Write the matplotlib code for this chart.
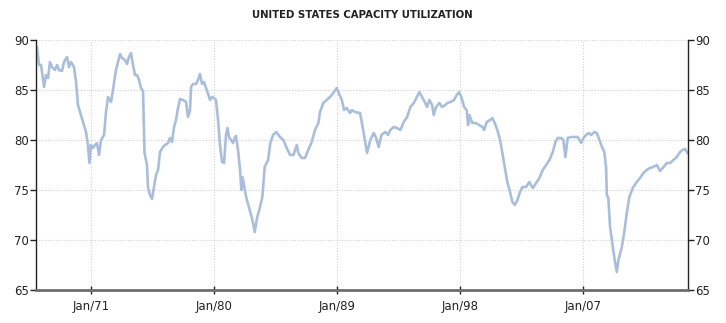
import matplotlib
matplotlib.use("Agg")
import matplotlib.pyplot as plt

title = "UNITED STATES CAPACITY UTILIZATION"

years = [
    1967.02, 1967.17, 1967.32, 1967.54, 1967.68, 1967.83, 1967.97, 1968.12, 1968.34, 1968.49,
    1968.63, 1968.85, 1969.00, 1969.22, 1969.36, 1969.51, 1969.73, 1969.88, 1970.02, 1970.24,
    1970.46, 1970.61, 1970.75, 1970.86, 1970.97, 1971.12, 1971.27, 1971.41, 1971.56, 1971.71,
    1971.93, 1972.07, 1972.22, 1972.44, 1972.58, 1972.80, 1972.95, 1973.10, 1973.24, 1973.46,
    1973.61, 1973.75, 1973.90, 1974.05, 1974.19, 1974.34, 1974.49, 1974.63, 1974.78, 1974.89,
    1975.07, 1975.14, 1975.29, 1975.44, 1975.58, 1975.73, 1975.88, 1976.02, 1976.24, 1976.39,
    1976.61, 1976.75, 1976.90, 1977.05, 1977.19, 1977.34, 1977.49, 1977.71, 1977.93, 1978.07,
    1978.22, 1978.29, 1978.44, 1978.66, 1978.80, 1978.95, 1979.10, 1979.24, 1979.39, 1979.54,
    1979.68, 1979.83, 1979.97, 1980.12, 1980.27, 1980.41, 1980.56, 1980.71, 1980.85, 1980.96,
    1981.07, 1981.22, 1981.36, 1981.51, 1981.58, 1981.73, 1981.88, 1981.97, 1982.06, 1982.34,
    1982.59, 1982.75, 1982.95, 1983.12, 1983.32, 1983.51, 1983.68, 1983.93, 1984.09, 1984.29,
    1984.53, 1984.80, 1985.05, 1985.29, 1985.54, 1985.78, 1986.03, 1986.14, 1986.39, 1986.63,
    1986.87, 1987.12, 1987.36, 1987.61, 1987.73, 1987.97, 1988.22, 1988.46, 1988.70, 1988.95,
    1989.07, 1989.32, 1989.49, 1989.68, 1989.93, 1990.05, 1990.29, 1990.66, 1990.78, 1990.95,
    1991.17, 1991.41, 1991.66, 1991.83, 1992.02, 1992.22, 1992.51, 1992.71, 1992.87, 1993.12,
    1993.36, 1993.61, 1993.85, 1994.10, 1994.34, 1994.59, 1994.78, 1995.00, 1995.19, 1995.39,
    1995.56, 1995.73, 1995.93, 1996.05, 1996.22, 1996.46, 1996.66, 1996.90, 1997.04, 1997.29,
    1997.53, 1997.73, 1997.90, 1998.07, 1998.27, 1998.46, 1998.56, 1998.66, 1998.87, 1999.12,
    1999.36, 1999.61, 1999.73, 1999.93, 2000.17, 2000.34, 2000.51, 2000.70, 2000.90, 2001.07,
    2001.24, 2001.43, 2001.63, 2001.80, 2001.98, 2002.17, 2002.36, 2002.53, 2002.80, 2003.04,
    2003.29, 2003.54, 2003.78, 2004.02, 2004.27, 2004.51, 2004.76, 2004.95, 2005.12, 2005.36,
    2005.53, 2005.68, 2005.85, 2006.10, 2006.34, 2006.59, 2006.83, 2007.00, 2007.19, 2007.39,
    2007.56, 2007.80, 2007.98, 2008.17, 2008.36, 2008.53, 2008.66, 2008.71, 2008.82, 2008.95,
    2009.15, 2009.32, 2009.44, 2009.56, 2009.81, 2009.98, 2010.17, 2010.36, 2010.61, 2010.90,
    2011.14, 2011.39, 2011.63, 2011.87, 2012.11, 2012.36, 2012.61, 2012.85, 2013.10, 2013.34,
    2013.58, 2013.83, 2014.07, 2014.24, 2014.44, 2014.61,
]

values = [
    89.3, 87.5, 87.5, 85.3, 86.5, 86.2, 87.8, 87.3, 87.0, 87.5,
    87.0, 86.9, 87.8, 88.3, 87.3, 87.8, 87.3, 85.8, 83.5, 82.5,
    81.5, 80.8, 79.5, 77.7, 79.5, 79.2, 79.5, 79.7, 78.5, 80.0,
    80.5, 82.8, 84.3, 83.8, 85.0, 87.0, 87.8, 88.6, 88.2, 88.0,
    87.6, 88.3, 88.7, 87.5, 86.5, 86.5, 86.0, 85.2, 84.9, 78.7,
    77.5, 75.3, 74.5, 74.1, 75.3, 76.5, 77.0, 78.8, 79.3, 79.5,
    79.7, 80.2, 79.8, 81.3, 82.0, 83.2, 84.1, 84.0, 83.8, 82.3,
    83.0, 85.3, 85.6, 85.6, 86.0, 86.6, 85.6, 85.8, 85.2, 84.6,
    84.0, 84.3, 84.2, 84.0, 82.0, 79.5, 77.8, 77.7, 80.5, 81.2,
    80.3, 80.0, 79.7, 80.3, 80.4, 79.0, 77.0, 75.0, 76.3, 74.2,
    73.0, 72.2, 70.8, 72.2, 73.2, 74.3, 77.3, 78.0, 79.7, 80.5,
    80.8, 80.3, 80.0, 79.2, 78.5, 78.5, 79.5, 78.7, 78.2, 78.2,
    79.0, 79.8, 81.0, 81.7, 82.8, 83.7, 84.0, 84.3, 84.7, 85.2,
    84.8, 84.0, 83.0, 83.2, 82.7, 83.0, 82.8, 82.7, 81.8, 80.5,
    78.7, 80.0, 80.7, 80.2, 79.3, 80.5, 80.8, 80.5, 81.0, 81.3,
    81.2, 81.0, 81.8, 82.3, 83.3, 83.7, 84.2, 84.8, 84.3, 83.8,
    83.3, 84.0, 83.5, 82.5, 83.3, 83.7, 83.3, 83.5, 83.7, 83.8,
    84.0, 84.5, 84.8, 84.3, 83.3, 83.0, 81.5, 82.5, 81.7, 81.7,
    81.5, 81.3, 81.0, 81.8, 82.0, 82.2, 81.7, 81.0, 80.0, 78.7,
    77.3, 75.8, 74.8, 73.8, 73.5, 74.0, 74.8, 75.3, 75.3, 75.8,
    75.2, 75.7, 76.2, 77.0, 77.5, 78.0, 78.8, 79.8, 80.2, 80.2,
    80.0, 78.3, 80.2, 80.3, 80.3, 80.3, 79.7, 80.2, 80.5, 80.7,
    80.5, 80.8, 80.7, 80.0, 79.3, 78.8, 77.2, 74.5, 74.2, 71.3,
    69.3, 67.7, 66.8, 68.0, 69.3, 70.7, 72.7, 74.3, 75.2, 75.8,
    76.2, 76.7, 77.0, 77.2, 77.3, 77.5, 76.9, 77.3, 77.7, 77.7,
    78.0, 78.3, 78.8, 79.0, 79.1, 78.7,
]

tick_years = [1971, 1980, 1989, 1998, 2007]
tick_labels = ["Jan/71", "Jan/80", "Jan/89", "Jan/98", "Jan/07"]
y_ticks = [65, 70, 75, 80, 85, 90]

fig = plt.figure(figsize=(7.26, 3.23), dpi=100)
ax = fig.add_axes([36/726, 1-290/323, (688-36)/726, 250/323])

ax.plot(years, values, color="#aabedb", lw=1.9, solid_joinstyle="round")

ax.set_xlim(1966.95, 2014.65)
ax.set_ylim(65, 90)
ax.set_xticks(tick_years)
ax.set_xticklabels(tick_labels)
ax.set_yticks(y_ticks)

ax.grid(True, color="#cfcfcf", linestyle=(0, (1, 1.5)), linewidth=0.8)

ax.spines["top"].set_visible(False)
ax.spines["left"].set_color("#222222")
ax.spines["right"].set_color("#222222")
ax.spines["left"].set_linewidth(1.0)
ax.spines["right"].set_linewidth(1.0)
ax.spines["bottom"].set_color("#6e6e6e")
ax.spines["bottom"].set_linewidth(2.0)

ax.tick_params(axis="y", which="both", left=True, right=True, labelleft=True, labelright=True,
               direction="out", length=4, width=1, color="#222222", labelsize=8.5,
               labelcolor="#222222", pad=1)
ax.tick_params(axis="x", direction="inout", length=6, width=1, color="#222222",
               labelsize=8.5, labelcolor="#222222", pad=4)

fig.text(362/726, 1-15/323, title, ha="center", va="center", fontsize=7.3,
         color="#222222", fontweight="bold")

fig.savefig("out.png", dpi=100)
